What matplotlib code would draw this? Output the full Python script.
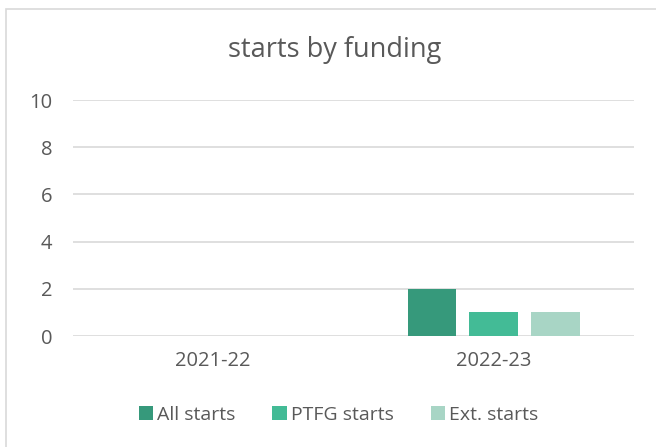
import matplotlib.pyplot as plt
import numpy as np
from matplotlib.patches import Rectangle

plt.rcParams['font.family'] = ['Open Sans', 'DejaVu Sans']

categories = ["2021-22", "2022-23"]
series_names = ["All starts", "PTFG starts", "Ext. starts"]
all_starts = [0, 2]
ptfg_starts = [0, 1]
ext_starts = [0, 1]
colors = ["#36997B", "#43BB96", "#A8D5C5"]
text_color = "#595959"

fig = plt.figure(figsize=(6.56, 4.47), dpi=100)

# chart border (only left and top edges fall inside the image)
fig.patches.append(Rectangle((6 / 656, -0.1), 1.1, (447 - 9) / 447 + 0.1,
                             transform=fig.transFigure, fill=False,
                             edgecolor="#D9D9D9", linewidth=1.2))

ax = fig.add_axes([73 / 656, (447 - 336) / 447, (634 - 73) / 656, (336 - 100) / 447])

x = np.arange(len(categories))
width = 0.174
step = 0.22
for i, (name, vals) in enumerate(zip(series_names, [all_starts, ptfg_starts, ext_starts])):
    ax.bar(x + (i - 1) * step, vals, width, color=colors[i], label=name, zorder=3)

ax.set_xlim(-0.5, 1.5)
ax.set_ylim(0, 10)
ax.set_yticks(range(0, 11, 2))
ax.set_xticks(x)
ax.set_xticklabels(categories)
ax.grid(axis="y", color="#D9D9D9", linewidth=1.2, zorder=0)
for s in ax.spines.values():
    s.set_visible(False)
ax.tick_params(length=0, labelsize=14.5, colors=text_color)
ax.tick_params(axis="y", pad=15)
ax.tick_params(axis="x", pad=11)

fig.text(0.51, 1 - 50 / 447, "starts by funding", ha="center", va="center",
         fontsize=19.5, color=text_color)

ax.legend(loc="center", bbox_to_anchor=(0.516, (447 - 415) / 447), bbox_transform=fig.transFigure,
          ncol=3, frameon=False, fontsize=14, labelcolor=text_color,
          handlelength=0.75, handleheight=0.75, handletextpad=0.2, columnspacing=1.9)

fig.savefig("out.png", dpi=100)
